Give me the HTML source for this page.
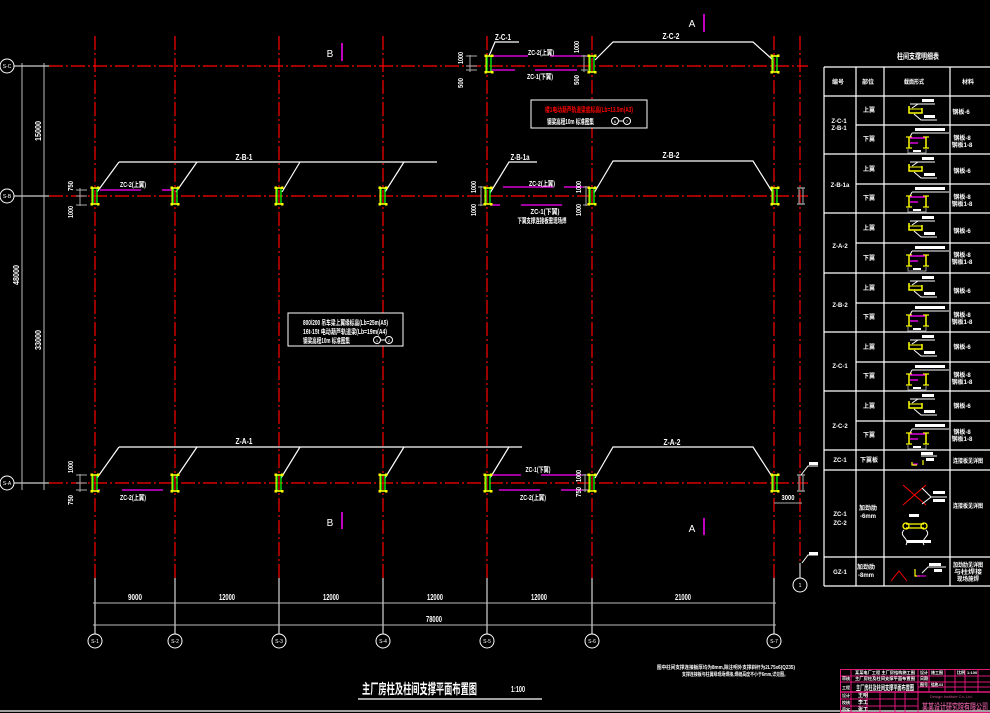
<!DOCTYPE html>
<html><head><meta charset="utf-8"><style>
html,body{margin:0;padding:0;background:#000;}
svg{display:block;}
text{font-family:"Liberation Sans","Noto Sans CJK SC",sans-serif;fill:#fff;}
</style></head><body>
<svg width="990" height="713" viewBox="0 0 990 713" xmlns="http://www.w3.org/2000/svg">
<defs>
<g id="col">
<rect x="-2" y="-8" width="4" height="16" fill="none" stroke="#00ff00" stroke-width="1.3"/>
<line x1="-3" y1="-7" x2="-3" y2="7" stroke="#ffff00" stroke-width="1"/>
<line x1="-4" y1="-8" x2="4" y2="-8" stroke="#ffff00" stroke-width="1.5"/>
<line x1="-4" y1="8" x2="4" y2="8" stroke="#ffff00" stroke-width="1.5"/>
<rect x="-4.5" y="-9.5" width="2.5" height="2.5" fill="#ffff00"/>
<rect x="2" y="-9.5" width="2.5" height="2.5" fill="#ffff00"/>
<rect x="-4.5" y="7" width="2.5" height="2.5" fill="#ffff00"/>
<rect x="2" y="7" width="2.5" height="2.5" fill="#ffff00"/>
</g>
<g id="gcol">
<rect x="-2" y="-8" width="4" height="16" fill="none" stroke="#888" stroke-width="1.3"/>
<line x1="-4" y1="-8" x2="4" y2="-8" stroke="#888" stroke-width="1.5"/>
<line x1="-4" y1="8" x2="4" y2="8" stroke="#888" stroke-width="1.5"/>
</g>
<g id="secA">
<line x1="910" y1="8" x2="935" y2="8" stroke="#fff"/>
<line x1="912" y1="12" x2="918" y2="8" stroke="#fff"/>
<polyline points="909,10 909,17 922,17 922,12" fill="none" stroke="#ffff00" stroke-width="1.5"/>
<line x1="909" y1="13" x2="922" y2="13" stroke="#ffff00" stroke-width="1"/>
<polyline points="914,18 921,24 937,24" fill="none" stroke="#fff"/>
<rect x="922" y="3" width="12" height="3" fill="#fff"/>
<rect x="924" y="19" width="11" height="3" fill="#fff"/>
</g>
<g id="secB">
<line x1="912" y1="8" x2="949" y2="8" stroke="#fff"/>
<line x1="912" y1="8" x2="910" y2="12" stroke="#fff"/>
<rect x="915" y="3" width="30" height="3" fill="#fff"/>
<line x1="909" y1="12" x2="909" y2="23" stroke="#ffff00" stroke-width="1.5"/>
<line x1="926" y1="12" x2="926" y2="23" stroke="#ffff00" stroke-width="1.5"/>
<line x1="906" y1="12" x2="912" y2="12" stroke="#ffff00" stroke-width="1.2"/>
<line x1="906" y1="23" x2="912" y2="23" stroke="#ffff00" stroke-width="1.2"/>
<line x1="923" y1="12" x2="929" y2="12" stroke="#ffff00" stroke-width="1.2"/>
<line x1="923" y1="23" x2="929" y2="23" stroke="#ffff00" stroke-width="1.2"/>
<line x1="910" y1="13" x2="925" y2="13" stroke="#ff00ff" stroke-width="1.3"/>
<line x1="910" y1="18" x2="918" y2="18" stroke="#ff00ff" stroke-width="1.3"/>
<polyline points="908,24 908,28 926,28 926,24" fill="none" stroke="#999"/>
<rect x="913" y="25" width="8" height="2" fill="#fff"/>
</g>
</defs>

<!-- grid lines horizontal -->
<g stroke="#ff0000" stroke-width="1.2" stroke-dasharray="14 3 2 3">
<line x1="49" y1="66" x2="808" y2="66"/>
<line x1="49" y1="196" x2="808" y2="196"/>
<line x1="49" y1="483" x2="808" y2="483"/>
</g>
<g stroke="#fff" stroke-width="1">
<line x1="14" y1="66" x2="49" y2="66"/>
<line x1="14" y1="196" x2="49" y2="196"/>
<line x1="14" y1="483" x2="49" y2="483"/>
</g>
<!-- grid lines vertical -->
<g stroke="#ff0000" stroke-width="1.2" stroke-dasharray="14 3 2 3">
<line x1="95" y1="36" x2="95" y2="578"/>
<line x1="175" y1="36" x2="175" y2="578"/>
<line x1="279" y1="36" x2="279" y2="578"/>
<line x1="383" y1="36" x2="383" y2="578"/>
<line x1="487" y1="36" x2="487" y2="578"/>
<line x1="592" y1="36" x2="592" y2="578"/>
<line x1="774" y1="36" x2="774" y2="578"/>
<line x1="800" y1="36" x2="800" y2="563"/>
</g>
<g stroke="#fff" stroke-width="1">
<line x1="95" y1="578" x2="95" y2="634"/>
<line x1="175" y1="578" x2="175" y2="634"/>
<line x1="279" y1="578" x2="279" y2="634"/>
<line x1="383" y1="578" x2="383" y2="634"/>
<line x1="487" y1="578" x2="487" y2="634"/>
<line x1="592" y1="578" x2="592" y2="634"/>
<line x1="774" y1="578" x2="774" y2="634"/>
<line x1="800" y1="563" x2="800" y2="578"/>
</g>
<!-- axis circles -->
<g fill="none" stroke="#fff" stroke-width="1">
<circle cx="7" cy="66" r="7"/><circle cx="7" cy="196" r="7"/><circle cx="7" cy="483" r="7"/>
<circle cx="95" cy="641" r="7"/><circle cx="175" cy="641" r="7"/><circle cx="279" cy="641" r="7"/>
<circle cx="383" cy="641" r="7"/><circle cx="487" cy="641" r="7"/><circle cx="592" cy="641" r="7"/>
<circle cx="774" cy="641" r="7"/><circle cx="800" cy="585" r="7"/>
</g>
<g font-size="5" text-anchor="middle">
<text x="7" y="68">S-C</text><text x="7" y="198">S-B</text><text x="7" y="485">S-A</text>
<text x="95" y="643">S-1</text><text x="175" y="643">S-2</text><text x="279" y="643">S-3</text>
<text x="383" y="643">S-4</text><text x="487" y="643">S-5</text><text x="592" y="643">S-6</text>
<text x="774" y="643">S-7</text><text x="800" y="587">1</text>
</g>

<!-- left dimension lines -->
<g stroke="#bbb" stroke-width="1">
<line x1="22" y1="63" x2="22" y2="490"/>
<line x1="44" y1="63" x2="44" y2="490"/>
</g>
<g font-size="8" font-weight="bold" text-anchor="middle">
<text transform="translate(41,131) rotate(-90)" textLength="20" lengthAdjust="spacingAndGlyphs">15000</text>
<text transform="translate(19,275) rotate(-90)" textLength="20" lengthAdjust="spacingAndGlyphs">48000</text>
<text transform="translate(41,340) rotate(-90)" textLength="20" lengthAdjust="spacingAndGlyphs">33000</text>
</g>

<!-- bottom dimensions -->
<g stroke="#bbb" stroke-width="1">
<line x1="93" y1="603" x2="776" y2="603"/>
<line x1="93" y1="625" x2="776" y2="625"/>
</g>
<g font-size="8" font-weight="bold" text-anchor="middle">
<text x="135" y="600" textLength="14" lengthAdjust="spacingAndGlyphs">9000</text>
<text x="227" y="600" textLength="16" lengthAdjust="spacingAndGlyphs">12000</text>
<text x="331" y="600" textLength="16" lengthAdjust="spacingAndGlyphs">12000</text>
<text x="435" y="600" textLength="16" lengthAdjust="spacingAndGlyphs">12000</text>
<text x="539" y="600" textLength="16" lengthAdjust="spacingAndGlyphs">12000</text>
<text x="683" y="600" textLength="16" lengthAdjust="spacingAndGlyphs">21000</text>
<text x="434" y="622" textLength="16" lengthAdjust="spacingAndGlyphs">78000</text>
</g>

<!-- bracing lines -->
<g stroke="#fff" stroke-width="1.2" fill="none">
<line x1="119" y1="162" x2="437" y2="162"/>
<line x1="119" y1="162" x2="97" y2="192"/>
<line x1="197" y1="162" x2="176" y2="192"/>
<line x1="300" y1="162" x2="282" y2="192"/>
<line x1="404" y1="162" x2="385" y2="192"/>
<line x1="119" y1="447" x2="522" y2="447"/>
<line x1="119" y1="447" x2="97" y2="478"/>
<line x1="197" y1="447" x2="176" y2="478"/>
<line x1="300" y1="447" x2="281" y2="478"/>
<line x1="404" y1="447" x2="385" y2="478"/>
<line x1="509" y1="447" x2="490" y2="478"/>
<polyline points="595,478 613,447 753,447 773,478"/>
<polyline points="594,193 613,161 753,161 773,193"/>
<polyline points="595,60 613,42 753,42 773,60"/>
<polyline points="489,56 495,42 519,42"/>
<polyline points="490,193 509,162 537,162"/>
</g>
<g font-size="8" font-weight="bold" text-anchor="middle">
<text x="244" y="160" textLength="17" lengthAdjust="spacingAndGlyphs">Z-B-1</text>
<text x="244" y="444" textLength="17" lengthAdjust="spacingAndGlyphs">Z-A-1</text>
<text x="672" y="445" textLength="17" lengthAdjust="spacingAndGlyphs">Z-A-2</text>
<text x="671" y="158" textLength="17" lengthAdjust="spacingAndGlyphs">Z-B-2</text>
<text x="671" y="39" textLength="17" lengthAdjust="spacingAndGlyphs">Z-C-2</text>
<text x="503" y="40" textLength="16" lengthAdjust="spacingAndGlyphs">Z-C-1</text>
<text x="520" y="160" textLength="19" lengthAdjust="spacingAndGlyphs">Z-B-1a</text>
</g>

<!-- magenta brace lines -->
<g stroke="#ff00ff" stroke-width="1.3">
<line x1="489" y1="56" x2="528" y2="56"/><line x1="550" y1="56" x2="590" y2="56"/>
<line x1="490" y1="70" x2="515" y2="70"/><line x1="535" y1="70" x2="577" y2="70"/>
<line x1="503" y1="187" x2="553" y2="187"/><line x1="564" y1="187" x2="590" y2="187"/>
<line x1="490" y1="205" x2="500" y2="205"/><line x1="521" y1="205" x2="562" y2="205"/>
<line x1="100" y1="190" x2="141" y2="190"/><line x1="162" y1="190" x2="174" y2="190"/>
<line x1="97" y1="490" x2="100" y2="490"/><line x1="122" y1="490" x2="163" y2="490"/>
<line x1="492" y1="475" x2="521" y2="475"/><line x1="541" y1="475" x2="585" y2="475"/>
<line x1="499" y1="490" x2="540" y2="490"/><line x1="561" y1="490" x2="590" y2="490"/>
</g>
<g font-size="7" font-weight="bold" text-anchor="middle">
<text x="541" y="55" textLength="26" lengthAdjust="spacingAndGlyphs">ZC-2(上翼)</text>
<text x="540" y="79" textLength="26" lengthAdjust="spacingAndGlyphs">ZC-1(下翼)</text>
<text x="542" y="186" textLength="26" lengthAdjust="spacingAndGlyphs">ZC-2(上翼)</text>
<text x="545" y="214" textLength="29" lengthAdjust="spacingAndGlyphs">ZC-1(下翼)</text>
<text x="542" y="223" textLength="49" lengthAdjust="spacingAndGlyphs">下翼支撑连接板需现场焊</text>
<text x="133" y="187" textLength="26" lengthAdjust="spacingAndGlyphs">ZC-2(上翼)</text>
<text x="133" y="500" textLength="26" lengthAdjust="spacingAndGlyphs">ZC-2(上翼)</text>
<text x="538" y="472" textLength="25" lengthAdjust="spacingAndGlyphs">ZC-1(下翼)</text>
<text x="533" y="500" textLength="26" lengthAdjust="spacingAndGlyphs">ZC-2(上翼)</text>
</g>

<!-- small dimension ticks near columns -->
<g stroke="#aaa" stroke-width="1">
<line x1="80" y1="188" x2="80" y2="206"/><line x1="76" y1="190" x2="87" y2="190"/><line x1="76" y1="196" x2="87" y2="196"/><line x1="76" y1="205" x2="87" y2="205"/>
<line x1="80" y1="474" x2="80" y2="492"/><line x1="76" y1="475" x2="87" y2="475"/><line x1="76" y1="483" x2="87" y2="483"/><line x1="76" y1="490" x2="87" y2="490"/>
<line x1="470" y1="55" x2="470" y2="72"/><line x1="466" y1="56" x2="477" y2="56"/><line x1="466" y1="66" x2="477" y2="66"/><line x1="466" y1="70" x2="477" y2="70"/>
<line x1="584" y1="55" x2="584" y2="72"/><line x1="581" y1="56" x2="588" y2="56"/><line x1="581" y1="70" x2="588" y2="70"/>
<line x1="481" y1="186" x2="481" y2="206"/><line x1="478" y1="187" x2="485" y2="187"/><line x1="478" y1="205" x2="485" y2="205"/>
<line x1="586" y1="186" x2="586" y2="206"/><line x1="583" y1="187" x2="589" y2="187"/><line x1="583" y1="205" x2="589" y2="205"/>
<line x1="585" y1="474" x2="585" y2="492"/><line x1="582" y1="475" x2="589" y2="475"/><line x1="582" y1="490" x2="589" y2="490"/>
<line x1="774" y1="503" x2="802" y2="503"/>
</g>
<g font-size="7" font-weight="bold" text-anchor="middle">
<text transform="translate(73,186) rotate(-90)" textLength="10" lengthAdjust="spacingAndGlyphs">750</text>
<text transform="translate(73,212) rotate(-90)" textLength="12" lengthAdjust="spacingAndGlyphs">1000</text>
<text transform="translate(73,467) rotate(-90)" textLength="12" lengthAdjust="spacingAndGlyphs">1000</text>
<text transform="translate(73,500) rotate(-90)" textLength="10" lengthAdjust="spacingAndGlyphs">750</text>
<text transform="translate(463,58) rotate(-90)" textLength="12" lengthAdjust="spacingAndGlyphs">1000</text>
<text transform="translate(463,83) rotate(-90)" textLength="10" lengthAdjust="spacingAndGlyphs">500</text>
<text transform="translate(579,47) rotate(-90)" textLength="12" lengthAdjust="spacingAndGlyphs">1000</text>
<text transform="translate(579,80) rotate(-90)" textLength="10" lengthAdjust="spacingAndGlyphs">500</text>
<text transform="translate(476,187) rotate(-90)" textLength="12" lengthAdjust="spacingAndGlyphs">1000</text>
<text transform="translate(476,210) rotate(-90)" textLength="12" lengthAdjust="spacingAndGlyphs">1000</text>
<text transform="translate(581,187) rotate(-90)" textLength="12" lengthAdjust="spacingAndGlyphs">1000</text>
<text transform="translate(581,210) rotate(-90)" textLength="12" lengthAdjust="spacingAndGlyphs">1000</text>
<text transform="translate(581,476) rotate(-90)" textLength="12" lengthAdjust="spacingAndGlyphs">1000</text>
<text transform="translate(581,492) rotate(-90)" textLength="10" lengthAdjust="spacingAndGlyphs">750</text>
<text x="788" y="500" textLength="13" lengthAdjust="spacingAndGlyphs">3000</text>
</g>

<!-- columns -->
<use href="#col" x="489" y="64"/><use href="#col" x="592" y="64"/><use href="#col" x="775" y="64"/>
<use href="#col" x="95" y="196"/><use href="#col" x="175" y="196"/><use href="#col" x="279" y="196"/><use href="#col" x="383" y="196"/>
<use href="#col" x="488" y="196"/><use href="#col" x="592" y="196"/><use href="#col" x="775" y="196"/>
<use href="#col" x="95" y="483"/><use href="#col" x="175" y="483"/><use href="#col" x="279" y="483"/><use href="#col" x="383" y="483"/>
<use href="#col" x="488" y="483"/><use href="#col" x="592" y="483"/><use href="#col" x="775" y="483"/>
<use href="#gcol" x="801" y="196"/><use href="#gcol" x="801" y="483"/>

<!-- leaders at far right -->
<g stroke="#fff" stroke-width="1" fill="none">
<polyline points="801,475 808,466 818,466"/>
<polyline points="802,563 808,555 818,555"/>
</g>
<rect x="809" y="462" width="9" height="3" fill="#fff"/>
<rect x="809" y="552" width="9" height="3" fill="#fff"/>

<!-- section markers -->
<g fill="#ff00ff" font-size="10" text-anchor="middle">
<text x="330" y="57">B</text>
<text x="330" y="526">B</text>
<text x="692" y="27">A</text>
<text x="692" y="532">A</text>
</g>
<g stroke="#ff00ff" stroke-width="1.5">
<line x1="342" y1="43" x2="342" y2="61"/>
<line x1="342" y1="512" x2="342" y2="529"/>
<line x1="704" y1="14" x2="704" y2="32"/>
<line x1="704" y1="518" x2="704" y2="535"/>
</g>

<!-- note boxes -->
<rect x="531" y="100" width="116" height="28" fill="#000" stroke="#fff" stroke-width="1"/>
<text x="589" y="112" font-size="7" font-weight="bold" text-anchor="middle" style="fill:#ff0000" textLength="88" lengthAdjust="spacingAndGlyphs">楼1电动葫芦轨道梁底标高(Lb=13.5m(A3)</text>
<text x="547" y="124" font-size="7" font-weight="bold" textLength="47" lengthAdjust="spacingAndGlyphs">钢梁高程10m 标准图集</text>
<g fill="none" stroke="#fff"><circle cx="615" cy="121" r="3.5"/><circle cx="627" cy="121" r="3.5"/><line x1="619" y1="121" x2="623" y2="121"/></g>
<text x="615" y="123" font-size="4" text-anchor="middle">6</text><text x="627" y="123" font-size="4" text-anchor="middle">7</text>

<rect x="288" y="313" width="115" height="33" fill="#000" stroke="#fff" stroke-width="1"/>
<text x="303" y="325" font-size="7" font-weight="bold" textLength="85" lengthAdjust="spacingAndGlyphs">800/200 吊车梁上翼缘标高(Lb=25m(A5)</text>
<text x="303" y="334" font-size="7" font-weight="bold" textLength="84" lengthAdjust="spacingAndGlyphs">16t-15t 电动葫芦轨道梁(Lb=19m(A4)</text>
<text x="303" y="343" font-size="7" font-weight="bold" textLength="47" lengthAdjust="spacingAndGlyphs">钢梁高程10m 标准图集</text>
<g fill="none" stroke="#fff"><circle cx="377" cy="340" r="3.5"/><circle cx="389" cy="340" r="3.5"/><line x1="381" y1="340" x2="385" y2="340"/></g>
<text x="377" y="342" font-size="4" text-anchor="middle">1</text><text x="389" y="342" font-size="4" text-anchor="middle">2</text>

<!-- right table -->
<text x="918" y="59" font-size="8" font-weight="bold" text-anchor="middle" textLength="42" lengthAdjust="spacingAndGlyphs">柱间支撑明细表</text>
<g stroke="#fff" stroke-width="1.2" fill="none">
<line x1="824" y1="67" x2="990" y2="67"/>
<line x1="824" y1="96" x2="990" y2="96"/>
<line x1="856" y1="125" x2="990" y2="125"/>
<line x1="824" y1="154" x2="990" y2="154"/>
<line x1="856" y1="184" x2="990" y2="184"/>
<line x1="824" y1="213" x2="990" y2="213"/>
<line x1="856" y1="243" x2="990" y2="243"/>
<line x1="824" y1="273" x2="990" y2="273"/>
<line x1="856" y1="303" x2="990" y2="303"/>
<line x1="824" y1="332" x2="990" y2="332"/>
<line x1="856" y1="362" x2="990" y2="362"/>
<line x1="824" y1="391" x2="990" y2="391"/>
<line x1="856" y1="421" x2="990" y2="421"/>
<line x1="824" y1="450" x2="990" y2="450"/>
<line x1="824" y1="470" x2="990" y2="470"/>
<line x1="824" y1="557" x2="990" y2="557"/>
<line x1="824" y1="586" x2="990" y2="586"/>
<line x1="824" y1="67" x2="824" y2="586"/>
<line x1="856" y1="67" x2="856" y2="586"/>
<line x1="884" y1="67" x2="884" y2="586"/>
<line x1="950" y1="67" x2="950" y2="586"/>
</g>
<g font-size="6" font-weight="bold" text-anchor="middle">
<text x="838" y="84">编号</text><text x="868" y="84">部位</text><text x="914" y="84" textLength="20" lengthAdjust="spacingAndGlyphs">截面形式</text><text x="968" y="84">材料</text>
<text x="839" y="123">Z-C-1</text><text x="839" y="130">Z-B-1</text>
<text x="840" y="187">Z-B-1a</text>
<text x="840" y="248">Z-A-2</text>
<text x="840" y="307">Z-B-2</text>
<text x="840" y="368">Z-C-1</text>
<text x="840" y="428">Z-C-2</text>
<text x="840" y="462">ZC-1</text>
<text x="840" y="516">ZC-1</text><text x="840" y="525">ZC-2</text>
<text x="840" y="574">GZ-1</text>
<text x="869" y="112">上翼</text><text x="869" y="141">下翼</text>
<text x="869" y="171">上翼</text><text x="869" y="200">下翼</text>
<text x="869" y="230">上翼</text><text x="869" y="260">下翼</text>
<text x="869" y="290">上翼</text><text x="869" y="319">下翼</text>
<text x="869" y="349">上翼</text><text x="869" y="378">下翼</text>
<text x="869" y="408">上翼</text><text x="869" y="437">下翼</text>
<text x="869" y="462">下翼板</text>
<text x="868" y="510">加劲肋</text><text x="868" y="518">-6mm</text>
<text x="866" y="569">加劲肋</text><text x="866" y="577">-8mm</text>
<text x="961" y="114">钢板-6</text>
<text x="962" y="140">钢板-8</text><text x="962" y="147">钢板1-8</text>
<text x="962" y="173">钢板-6</text>
<text x="962" y="199">钢板-8</text><text x="962" y="206">钢板1-8</text>
<text x="962" y="233">钢板-6</text>
<text x="962" y="257">钢板-8</text><text x="962" y="264">钢板1-8</text>
<text x="962" y="293">钢板-6</text>
<text x="962" y="317">钢板-8</text><text x="962" y="324">钢板1-8</text>
<text x="962" y="349">钢板-6</text>
<text x="962" y="377">钢板-8</text><text x="962" y="384">钢板1-8</text>
<text x="962" y="408">钢板-6</text>
<text x="962" y="434">钢板-8</text><text x="962" y="441">钢板1-8</text>
<text x="968" y="463" textLength="30" lengthAdjust="spacingAndGlyphs">连接板见详图</text>
<text x="968" y="508" textLength="30" lengthAdjust="spacingAndGlyphs">连接板见详图</text>
<text x="968" y="567" textLength="30" lengthAdjust="spacingAndGlyphs">加劲肋见详图</text>
<text x="968" y="574" textLength="28" lengthAdjust="spacingAndGlyphs">与柱焊接</text>
<text x="968" y="581" textLength="22" lengthAdjust="spacingAndGlyphs">现场施焊</text>
</g>
<use href="#secA" y="96"/><use href="#secB" y="125"/>
<use href="#secA" y="154"/><use href="#secB" y="184"/>
<use href="#secA" y="213"/><use href="#secB" y="243"/>
<use href="#secA" y="273"/><use href="#secB" y="303"/>
<use href="#secA" y="332"/><use href="#secB" y="362"/>
<use href="#secA" y="391"/><use href="#secB" y="421"/>
<!-- row ZC-1 -->
<polyline points="912,462 912,465 917,465" fill="none" stroke="#ffff00" stroke-width="1.2"/>
<line x1="913" y1="464" x2="918" y2="464" stroke="#ff00ff"/>
<line x1="923" y1="460" x2="923" y2="465" stroke="#ffff00" stroke-width="1.2"/>
<line x1="921" y1="456" x2="937" y2="456" stroke="#fff"/>
<rect x="921" y="452" width="12" height="3" fill="#fff"/>
<rect x="926" y="458" width="8" height="3" fill="#fff"/>
<!-- row X -->
<g stroke="#ff0000" stroke-width="1">
<line x1="903" y1="485" x2="926" y2="505"/><line x1="926" y1="485" x2="903" y2="505"/>
</g>
<polyline points="922,488 931,497 947,497" fill="none" stroke="#fff"/>
<line x1="922" y1="504" x2="931" y2="497" stroke="#fff"/>
<rect x="933" y="491" width="12" height="3" fill="#fff"/>
<rect x="933" y="499" width="12" height="3" fill="#fff"/>
<rect x="909" y="514" width="10" height="3" fill="#fff"/>
<g stroke="#ffff00" stroke-width="1.3" fill="none">
<line x1="906" y1="524" x2="924" y2="524"/><line x1="906" y1="528" x2="924" y2="528"/>
<circle cx="906" cy="526" r="3"/><circle cx="924" cy="526" r="3"/>
</g>
<path d="M904,530 C898,536 910,538 906,545 M926,530 C932,536 920,538 924,545" fill="none" stroke="#fff"/>
<rect x="907" y="540" width="24" height="3" fill="#fff"/>
<!-- row GZ-1 -->
<polyline points="891,581 899,571 907,581" fill="none" stroke="#ff0000" stroke-width="1"/>
<polyline points="915,569 915,576 920,576" fill="none" stroke="#ffff00" stroke-width="1.2"/>
<line x1="917" y1="576" x2="926" y2="576" stroke="#ff00ff"/>
<polyline points="922,573 928,567 946,567" fill="none" stroke="#fff"/>
<rect x="929" y="563" width="12" height="3" fill="#fff"/>
<rect x="934" y="569" width="8" height="3" fill="#fff"/>

<!-- title -->
<text x="362" y="694" font-size="14" font-weight="bold" textLength="115" lengthAdjust="spacingAndGlyphs">主厂房柱及柱间支撑平面布置图</text>
<text x="511" y="692" font-size="8" font-weight="bold" textLength="14" lengthAdjust="spacingAndGlyphs">1:100</text>
<line x1="358" y1="699" x2="542" y2="699" stroke="#fff" stroke-width="1.2"/>
<line x1="0" y1="711" x2="990" y2="711" stroke="#fff" stroke-width="1.2"/>

<!-- notes -->
<text x="657" y="669" font-size="5" font-weight="bold" textLength="138" lengthAdjust="spacingAndGlyphs">图中柱间支撑连接板厚均为8mm,除注明外支撑斜杆为2L75x6(Q235)</text>
<text x="682" y="676" font-size="5" font-weight="bold" textLength="106" lengthAdjust="spacingAndGlyphs">支撑连接板与柱翼缘现场焊接,焊缝高度不小于6mm,详见图。</text>

<!-- title block -->
<g stroke="#e0187a" stroke-width="1" fill="none">
<rect x="840.5" y="669.5" width="160" height="43"/>
<line x1="918" y1="669" x2="918" y2="713"/>
<line x1="840" y1="676" x2="918" y2="676"/>
<line x1="840" y1="682" x2="918" y2="682"/>
<line x1="840" y1="692" x2="990" y2="692" stroke-width="1.5"/>
<line x1="840" y1="699" x2="918" y2="699"/>
<line x1="840" y1="706" x2="918" y2="706"/>
<line x1="851" y1="669" x2="851" y2="713"/>
<line x1="867" y1="692" x2="867" y2="713"/>
<line x1="880" y1="692" x2="880" y2="713"/>
<line x1="895" y1="692" x2="895" y2="713"/>
<line x1="905" y1="692" x2="905" y2="713"/>
<line x1="918" y1="676" x2="990" y2="676"/>
<line x1="918" y1="682" x2="990" y2="682"/>
<line x1="918" y1="687" x2="990" y2="687"/>
<line x1="929" y1="669" x2="929" y2="692"/>
<line x1="945" y1="669" x2="945" y2="692"/>
<line x1="955" y1="669" x2="955" y2="692"/>
<line x1="965" y1="669" x2="965" y2="692"/>
<line x1="978" y1="669" x2="978" y2="692"/>
</g>
<g font-size="4" font-weight="bold">
<text x="855" y="674" textLength="60" lengthAdjust="spacingAndGlyphs">某某电厂工程 主厂房结构施工图</text>
<text x="855" y="680" textLength="60" lengthAdjust="spacingAndGlyphs">主厂房柱及柱间支撑平面布置图</text>
<text x="842" y="680">审核</text><text x="842" y="689">工程</text>
<text x="842" y="697">设计</text><text x="842" y="704">校核</text><text x="842" y="711">审定</text>
<text x="920" y="674">设计</text><text x="931" y="674" textLength="12" lengthAdjust="spacingAndGlyphs">施工图</text>
<text x="957" y="674">比例</text><text x="967" y="674">1:100</text>
<text x="920" y="680">日期</text><text x="920" y="686">图号</text><text x="931" y="686" textLength="12" lengthAdjust="spacingAndGlyphs">结施-03</text>
</g>
<text x="856" y="690" font-size="7" font-weight="bold" textLength="58" lengthAdjust="spacingAndGlyphs">主厂房柱及柱间支撑平面布置图</text>
<text x="858" y="697" font-size="5" font-weight="bold">王明</text>
<text x="858" y="704" font-size="5" font-weight="bold">李工</text>
<text x="858" y="711" font-size="5" font-weight="bold">张工</text>
<text x="930" y="698" font-size="4" style="fill:#c0508a">Design Institute Co. Ltd.</text>
<text x="922" y="710" font-size="9" font-weight="bold" style="fill:#c0508a" textLength="66" lengthAdjust="spacingAndGlyphs">某某设计研究院有限公司</text>
</svg>
</body></html>
